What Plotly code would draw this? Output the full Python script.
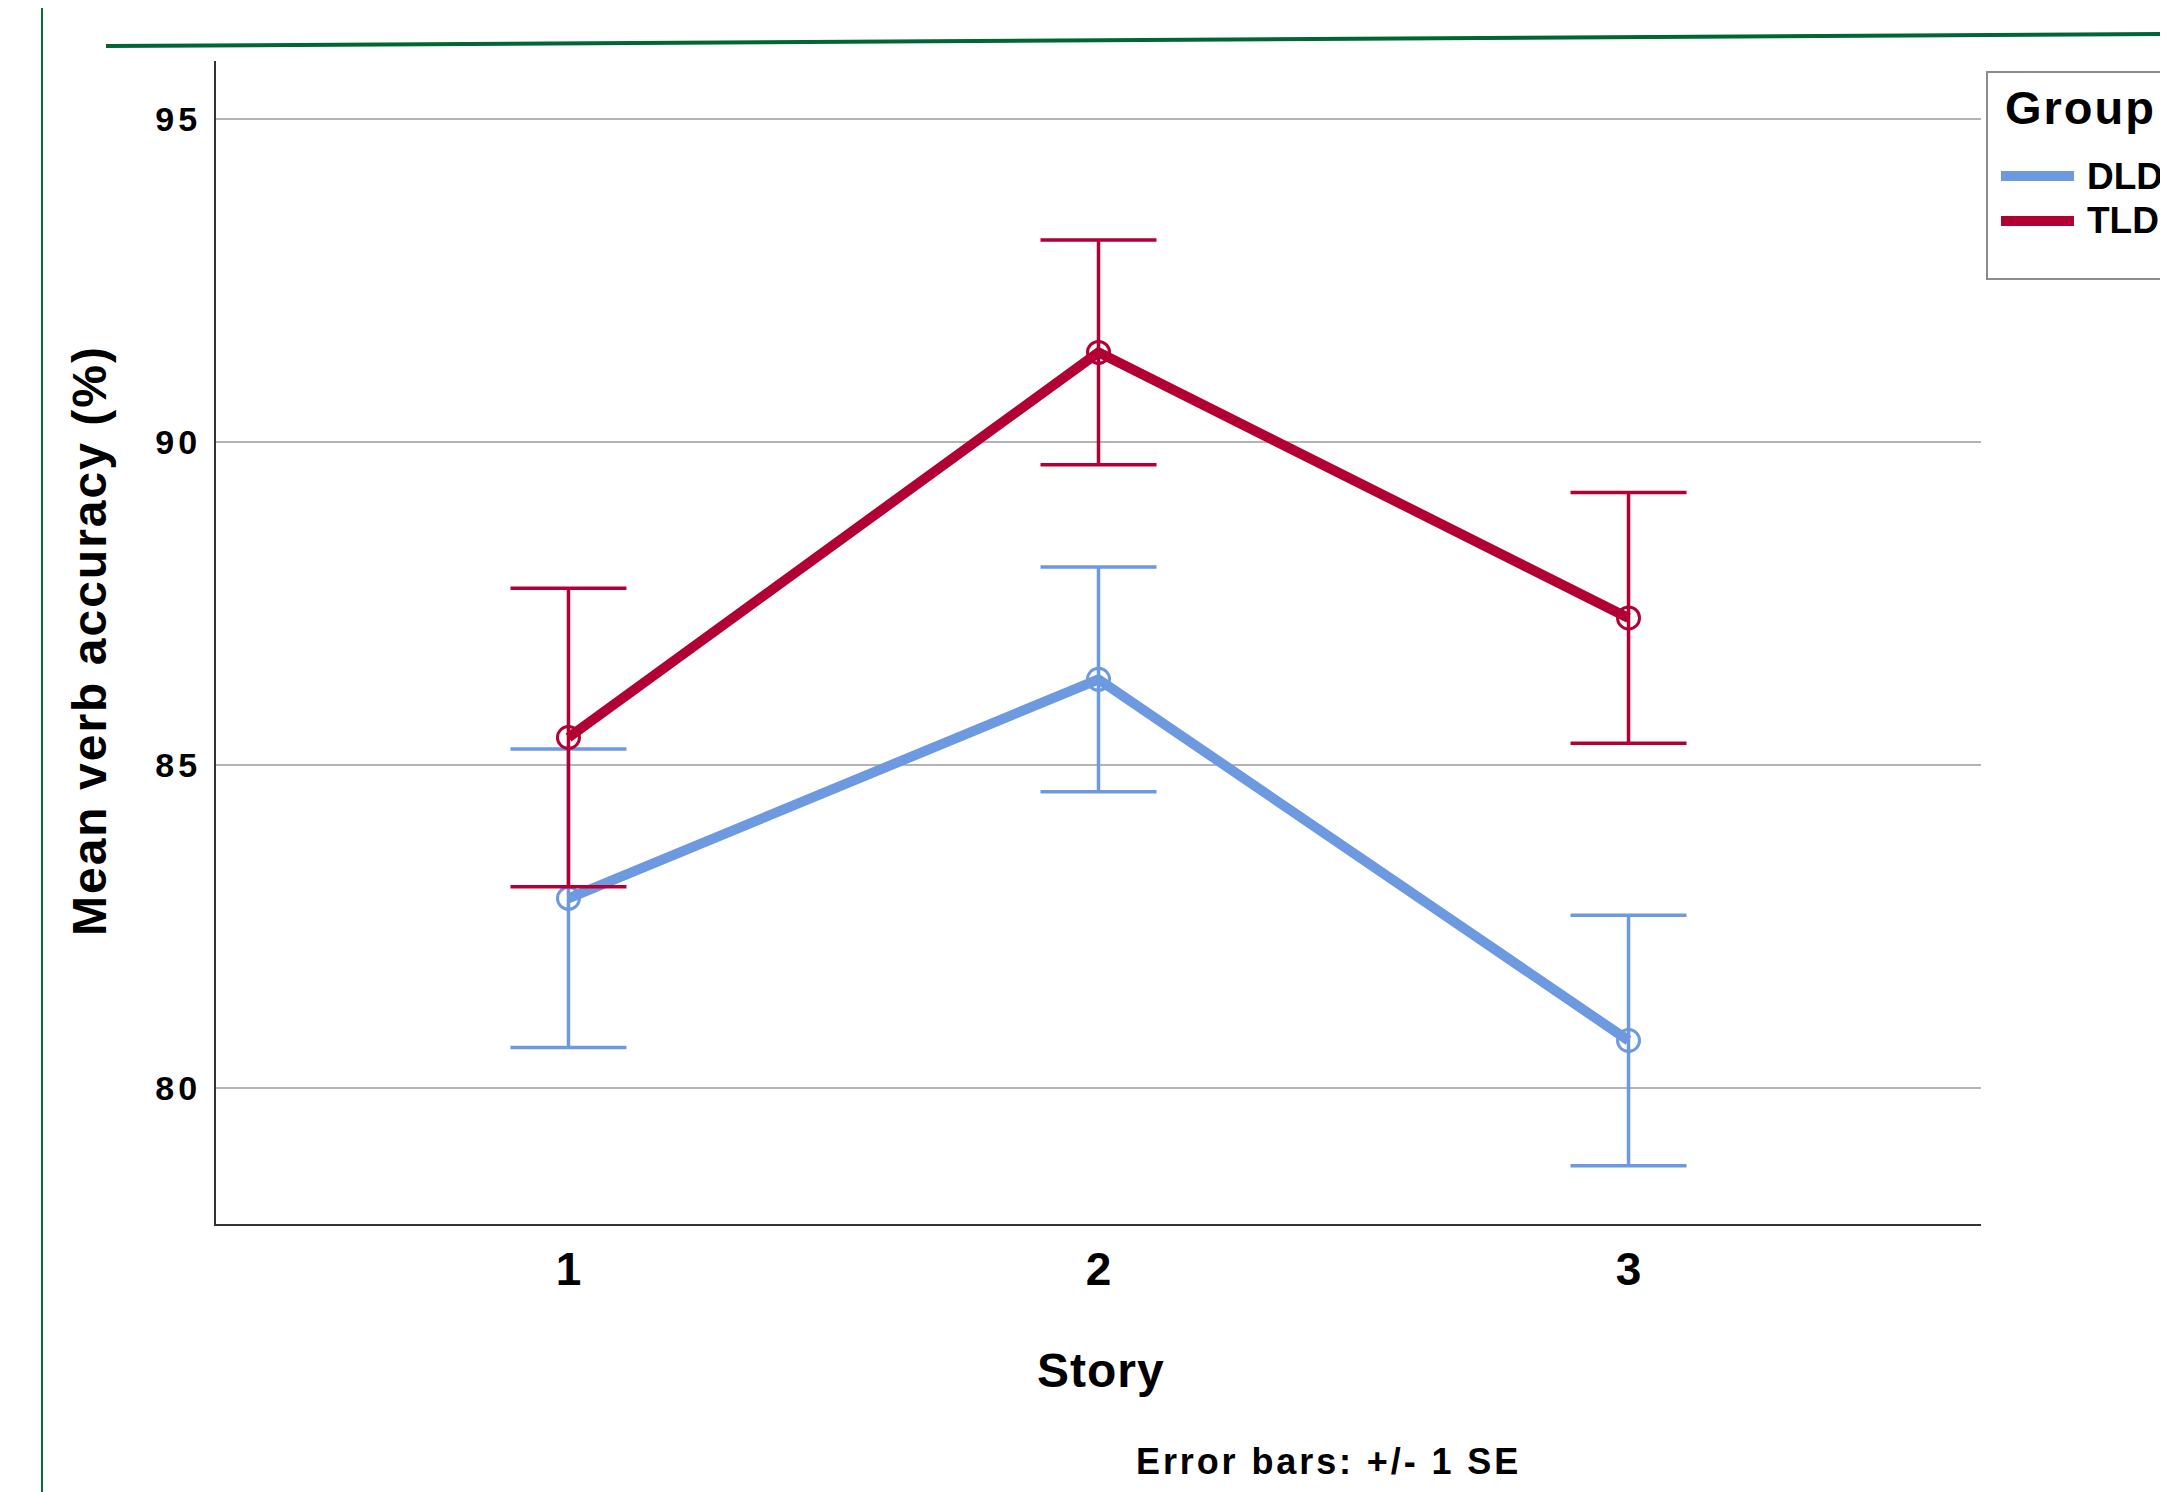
import plotly.graph_objects as go

# ---- data ----
stories = [1, 2, 3]
story_labels = ["1", "2", "3"]
dld_mean = [82.94, 86.33, 80.74]
dld_se = [2.31, 1.74, 1.94]
tld_mean = [85.43, 91.39, 87.28]
tld_se = [2.31, 1.74, 1.94]
y_ticks = [80, 85, 90, 95]
y_tick_labels = ["80", "85", "90", "95"]

BLUE = "#6D99E1"
RED = "#B30034"
GREEN = "#0A6B37"
FONT = "Liberation Sans, Arial, sans-serif"

W, H = 2168, 1492
OFF = 8  # page body margin
# plot area in screen pixels
X0, X1, Y0, Y1 = 216, 1981, 61, 1224
ML, MT = X0 - OFF, Y0 - OFF
MR, MB = W - (X1 - OFF), H - (Y1 - OFF)
PW, PH = X1 - X0, Y1 - Y0


def px(x):
    return (x - X0) / PW


def py(y):
    return (Y1 - y) / PH


fig = go.Figure()
for name, mean, se, color in [("DLD", dld_mean, dld_se, BLUE), ("TLD", tld_mean, tld_se, RED)]:
    fig.add_trace(go.Scatter(
        x=stories, y=mean, name=name, mode="lines+markers",
        line=dict(color=color, width=10),
        marker=dict(symbol="circle-open", size=22, color=color, line=dict(width=3, color=color)),
        error_y=dict(type="data", array=se, visible=True, color=color, thickness=3.5, width=58),
        showlegend=False,
    ))

shapes = [
    # page decorations
    dict(type="line", xref="paper", yref="paper", x0=px(42), x1=px(42), y0=py(0), y1=py(H + 20),
         line=dict(color=GREEN, width=2)),
    dict(type="line", xref="paper", yref="paper", x0=px(106), x1=px(2175), y0=py(46), y1=py(34),
         line=dict(color="#006633", width=4)),
    # legend frame
    dict(type="rect", xref="paper", yref="paper", x0=px(1987), x1=px(2190), y0=py(279), y1=py(72),
         line=dict(color="#8C8C8C", width=2), fillcolor="rgba(0,0,0,0)"),
    dict(type="line", xref="paper", yref="paper", x0=px(2001), x1=px(2074), y0=py(176), y1=py(176),
         line=dict(color=BLUE, width=10)),
    dict(type="line", xref="paper", yref="paper", x0=px(2001), x1=px(2074), y0=py(221), y1=py(221),
         line=dict(color=RED, width=10)),
]


def ann(text, x, y, size, xanchor="center", angle=0, ls=0):
    if ls:
        text = f'<span style="letter-spacing:{ls}px">{text}</span>'
    return dict(text=text, x=px(x), y=py(y), xref="paper", yref="paper", showarrow=False,
                xanchor=xanchor, yanchor="middle", textangle=angle,
                font=dict(family=FONT, size=size, color="black", weight=700))


annotations = [
    ann("Mean verb accuracy (%)", 89, 641, 48, angle=-90, ls=2),
    ann("Story", 1101, 1370, 48, ls=1),
    ann("Error bars: +/- 1 SE", 1328, 1461, 36, ls=2.9),
    ann("Group", 2003, 108, 47, xanchor="left", ls=2),
    ann("DLD", 2085, 176, 37, xanchor="left"),
    ann("TLD", 2085, 221, 37, xanchor="left"),
]

fig.update_layout(
    width=W, height=H,
    margin=dict(l=ML, r=MR, t=MT, b=MB, pad=0),
    paper_bgcolor="white", plot_bgcolor="white",
    shapes=shapes, annotations=annotations,
    showlegend=False,
)
fig.update_xaxes(
    range=[0.335, 3.665], tickvals=stories, ticktext=story_labels,
    showgrid=False, zeroline=False, showline=True, linecolor="#333333", linewidth=2,
    ticks="", ticklabelstandoff=4,
    tickfont=dict(family=FONT, size=46, color="black", weight=700),
)
fig.update_yaxes(
    range=[77.9, 95.9], tickvals=y_ticks,
    ticktext=[f'<span style="letter-spacing:4px">{t}</span>' for t in y_tick_labels],
    showgrid=True, gridcolor="#B4B4B4", gridwidth=2, zeroline=False,
    showline=True, linecolor="#333333", linewidth=2,
    ticks="", ticklabelstandoff=6,
    tickfont=dict(family=FONT, size=34, color="black", weight=700),
)

fig.write_html("out.html")
